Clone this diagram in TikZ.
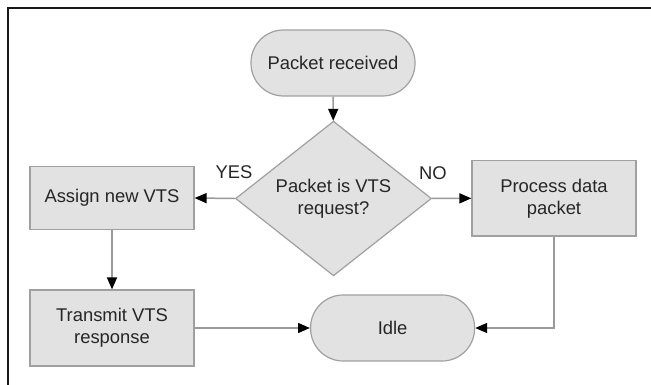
\documentclass[tikz,border=0pt]{standalone}
\usepackage{fontspec}
\setmainfont{Liberation Sans}
\usetikzlibrary{arrows.meta,shapes.geometric}
\definecolor{boxfill}{HTML}{E2E2E2}
\definecolor{boxline}{HTML}{A0A0A0}
\definecolor{conn}{HTML}{9A9A9A}
\begin{document}
\begin{tikzpicture}[x=1pt,y=-1pt,
  txt/.style={font=\fontsize{18.4}{22}\selectfont, text=black!85, align=center},
  procbox/.style={txt, draw=boxline, fill=boxfill, line width=1.2pt, rectangle, minimum width=164pt, inner sep=0pt},
  termbox/.style={txt, draw=boxline, fill=boxfill, line width=1.2pt, rectangle, rounded corners=32.5pt, minimum width=164pt, minimum height=66pt, inner sep=0pt},
  decbox/.style={txt, draw=boxline, fill=boxfill, line width=1.2pt, diamond, minimum width=196pt, minimum height=117pt, inner sep=0pt},
  conn/.style={draw=conn, line width=1.5pt, -{Triangle[length=12pt,width=10pt,black]}},
  lbl/.style={font=\fontsize{18.4}{22}\selectfont, text=black!85}
]
\useasboundingbox (0,0) rectangle (651,385);
\draw[line width=2pt, black!90] (651,8) -- (8,8) -- (8,386);

\node[termbox] (recv) at (333,63) {Packet received};
\node[decbox] (dec) at (333.5,198.5) {Packet is VTS\\request?};
\node[procbox, minimum height=62.6pt] (assign) at (112,198) {Assign new VTS};
\node[procbox, minimum height=75.3pt] (proc) at (554,198.3) {Process data\\packet};
\node[procbox, minimum height=76pt] (trans) at (112,328) {Transmit VTS\\response};
\node[termbox] (idle) at (392.6,328) {Idle};

\node[lbl] (yes) at (234,172) {YES};
\node[lbl] (no) at (433,173) {NO};

\draw[conn] (recv) -- (dec);
\draw[conn] (dec.west) -- (assign.east);
\draw[conn] (dec.east) -- (proc.west);
\draw[conn] (assign) -- (trans);
\draw[conn] (trans.east) -- (idle.west);
\draw[conn] (proc.south) |- (idle.east);
\end{tikzpicture}
\end{document}
